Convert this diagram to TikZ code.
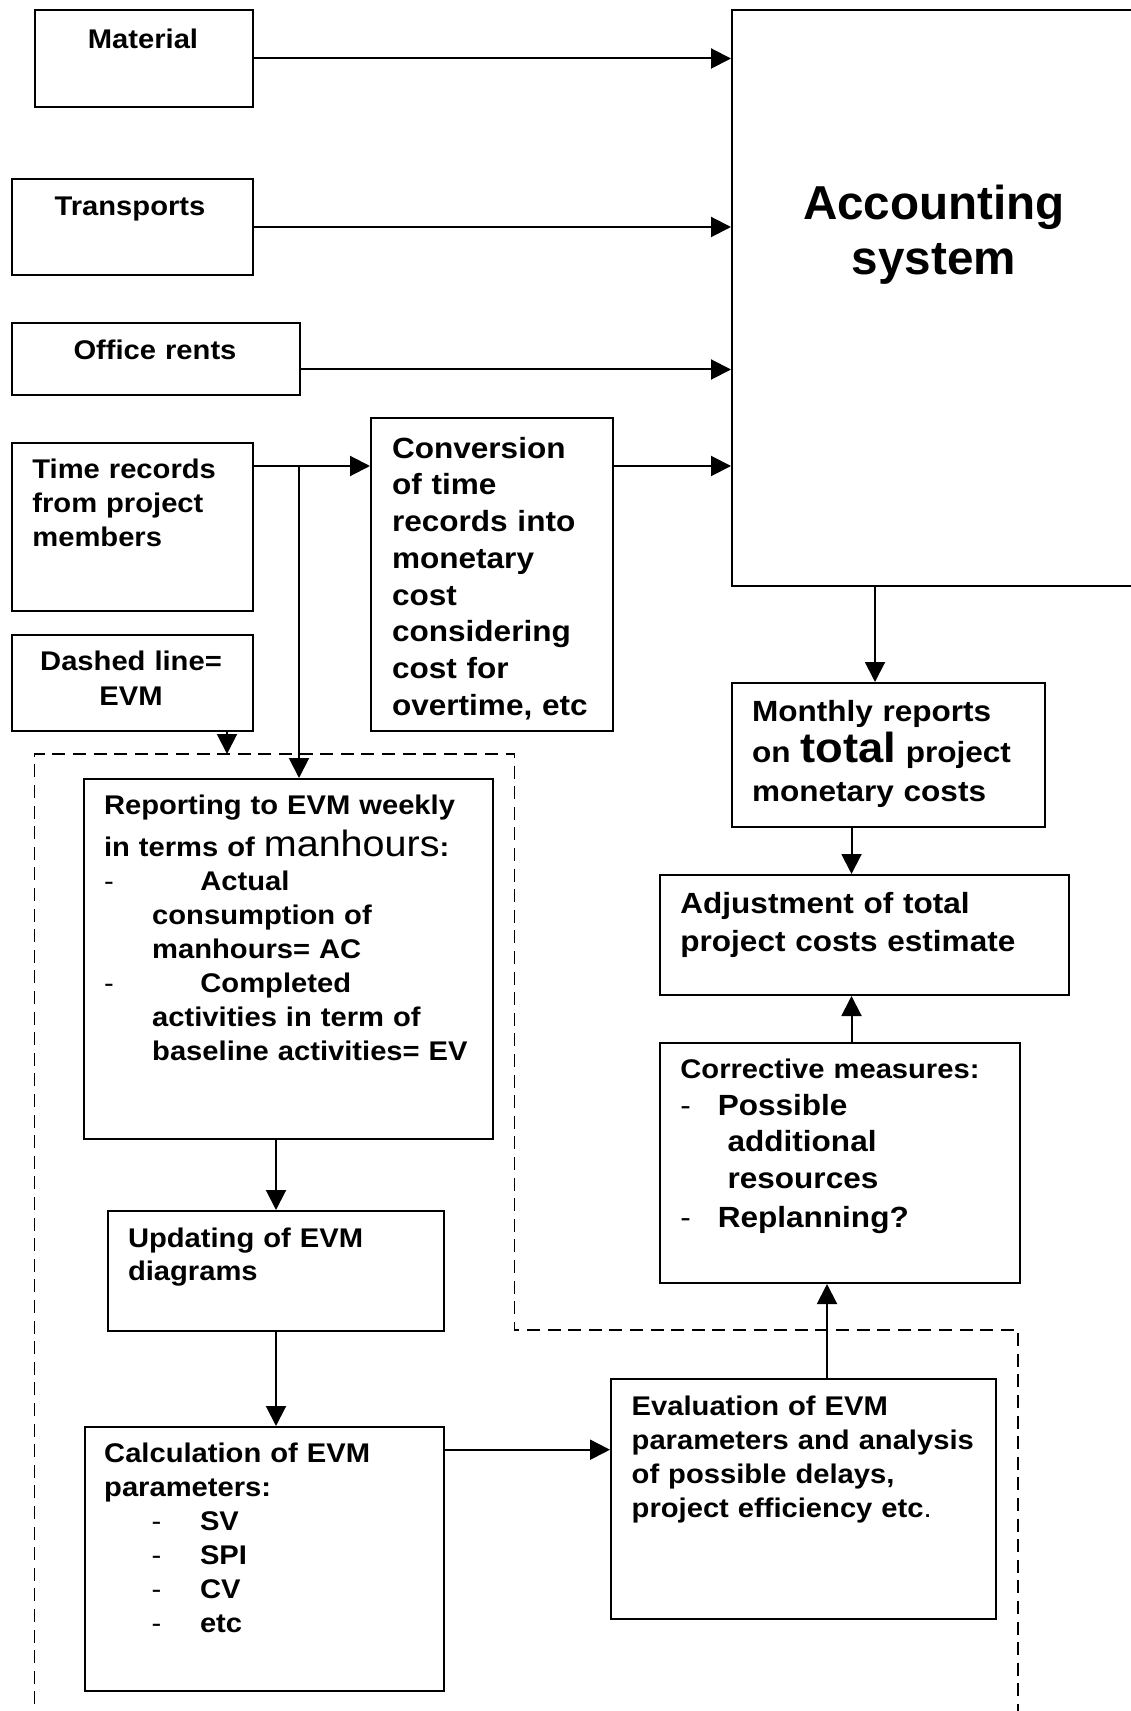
\documentclass[tikz,border=0pt]{standalone}
\usepackage{fontspec}
\setmainfont[FakeStretch=1.08]{Liberation Sans}
\newfontfamily\accfont{Liberation Sans}
\usetikzlibrary{arrows.meta}
\tikzset{
  x=0.5pt, y=-0.5pt,
  box/.style={draw, line width=1pt, rectangle, inner sep=0pt, anchor=north west},
  arr/.style={line width=1pt, -{Triangle[length=10pt,width=10pt]}},
  tl/.style={inner sep=0pt, anchor=base west, align=left, text width=230pt,
    font=\bfseries\fontsize{13.5pt}{17pt}\selectfont},
  tlb/.style={tl, font=\bfseries\fontsize{14.6pt}{18.35pt}\selectfont},
  tc/.style={inner sep=0pt, anchor=base, align=center, text width=120pt,
    font=\bfseries\fontsize{13.5pt}{17.5pt}\selectfont},
  evmline/.style={line width=0.85pt, dash pattern=on 6.5pt off 3.8pt},
}
\newcommand{\dsh}{{\mdseries -}}
\begin{document}
\setlength{\lineskiplimit}{-100pt}
\begin{tikzpicture}
\useasboundingbox (0,0) rectangle (1130,1711);
\fill[white] (0,0) rectangle (1130,1711);

% dashed EVM region
\draw[evmline] (34.6,1725) -- (34.6,754) -- (514.6,754) -- (514.6,1330) -- (1018.3,1330) -- (1018.3,1725);

% boxes
\node[box, minimum width=109pt,   minimum height=48.5pt] (mat) at (34,9) {};
\node[box, minimum width=120.5pt, minimum height=48pt]   (trn) at (11,178) {};
\node[box, minimum width=144pt,   minimum height=36pt]   (off) at (11,322) {};
\node[box, minimum width=120.5pt, minimum height=84pt]   (tim) at (11,442) {};
\node[box, minimum width=120.5pt, minimum height=48pt]   (dsb) at (11,634) {};
\node[box, minimum width=121pt,   minimum height=156.5pt] (cnv) at (370,417) {};
\node[box, minimum width=210pt,   minimum height=288pt]  (acc) at (731,9) {};
\node[box, minimum width=156.5pt, minimum height=72pt]   (mon) at (731,682) {};
\node[box, minimum width=204.5pt, minimum height=60pt]   (adj) at (659,874) {};
\node[box, minimum width=180pt,   minimum height=120pt]  (cor) at (659,1042) {};
\node[box, minimum width=204.5pt, minimum height=180pt]  (rep) at (83,778) {};
\node[box, minimum width=168pt,   minimum height=60pt]   (upd) at (107,1210) {};
\node[box, minimum width=179.5pt, minimum height=132pt]  (cal) at (84,1426) {};
\node[box, minimum width=192.5pt, minimum height=120pt]  (evl) at (610,1378) {};

% texts
\node[tc] (matT) at (143,48.3) {Material};
\node[tc] (trnT) at (130,216) {Transports};
\node[tc] (offT) at (155,360) {Office rents};
\node[tl] (timT) at (32,478.3) {Time records\\from project\\members};
\node[tc] (dsbT) at (131,670) {Dashed line=\\EVM};
\node[tlb] (cnvT) at (391.7,458.3) {Conversion\\of time\\records into\\monetary\\cost\\considering\\cost for\\overtime, etc};
\node[inner sep=0pt, anchor=base, align=center, text width=200pt,
  font=\accfont\bfseries\fontsize{23.8pt}{27.75pt}\selectfont] (accT) at (934,219.5) {Accounting\\system};
\node[tl, font=\bfseries\fontsize{14.6pt}{19.5pt}\selectfont] (monT) at (751.6,721.8)
  {Monthly reports\\[1pt]on {\fontsize{21pt}{19.5pt}\selectfont total} project\\monetary costs};
\node[tlb, font=\bfseries\fontsize{14.6pt}{18.75pt}\selectfont] (adjT) at (680,913.8)
  {Adjustment of total\\project costs estimate};
\node[tl, font=\bfseries\fontsize{13.5pt}{18.25pt}\selectfont] (corT) at (680,1078.5)
  {Corrective measures:\\
   {\fontsize{14.6pt}{18.25pt}\selectfont\makebox[18.7pt][l]{\dsh}Possible}\\
   {\fontsize{14.6pt}{18.25pt}\selectfont\hspace*{23.6pt}additional}\\
   {\fontsize{14.6pt}{18.25pt}\selectfont\hspace*{23.6pt}resources}\\[1.5pt]
   {\fontsize{14.6pt}{18.25pt}\selectfont\makebox[18.7pt][l]{\dsh}Replanning?}};
\node[tl] (repT) at (103.6,814)
  {Reporting to EVM weekly\\[4pt]
   in terms of {\mdseries\fontsize{18.3pt}{17pt}\selectfont manhours}:\\
   \makebox[48.2pt][l]{\dsh}Actual\\
   \hspace*{24.1pt}consumption of\\
   \hspace*{24.1pt}manhours= AC\\
   \makebox[48.2pt][l]{\dsh}Completed\\
   \hspace*{24.1pt}activities in term of\\
   \hspace*{24.1pt}baseline activities= EV};
\node[tl, font=\bfseries\fontsize{13.5pt}{16.5pt}\selectfont] (updT) at (127.6,1247.3) {Updating of EVM\\diagrams};
\node[tl] (calT) at (103.8,1462.7)
  {Calculation of EVM\\
   parameters:\\
   \hspace*{23.75pt}\makebox[24.15pt][l]{\dsh}SV\\
   \hspace*{23.75pt}\makebox[24.15pt][l]{\dsh}SPI\\
   \hspace*{23.75pt}\makebox[24.15pt][l]{\dsh}CV\\
   \hspace*{23.75pt}\makebox[24.15pt][l]{\dsh}etc};
\node[tl] (evlT) at (631.3,1415)
  {Evaluation of EVM\\parameters and analysis\\of possible delays,\\project efficiency etc{\mdseries .}};

% named coordinates for connector rows/columns
\coordinate (offrow) at (0,369.5);
\coordinate (trow) at (299,466);
\coordinate (dx) at (227,754);
\coordinate (c875) at (875,0);
\coordinate (c851) at (851.5,0);
\coordinate (c827) at (827,0);
\coordinate (crow) at (0,1449.7);

% connectors
\draw[arr] (mat.east) -- (mat.east -| acc.west);
\draw[arr] (trn.east) -- (trn.east -| acc.west);
\draw[arr] (off.east |- offrow) -- (acc.west |- offrow);
\draw[arr] (tim.east |- trow) -- (cnv.west |- trow);
\draw[arr] (trow) -- (trow |- rep.north);
\draw[arr] (cnv.east |- trow) -- (acc.west |- trow);
\draw[arr] (dsb.south -| dx) -- (dx);
\draw[arr] (acc.south -| c875) -- (mon.north -| c875);
\draw[arr] (mon.south -| c851) -- (adj.north -| c851);
\draw[arr] (cor.north -| c851) -- (adj.south -| c851);
\draw[arr] (evl.north -| c827) -- (cor.south -| c827);
\draw[arr] (rep.south -| upd.north) -- (upd.north);
\draw[arr] (upd.south) -- (upd.south |- cal.north);
\draw[arr] (cal.east |- crow) -- (evl.west |- crow);
\end{tikzpicture}
\end{document}
